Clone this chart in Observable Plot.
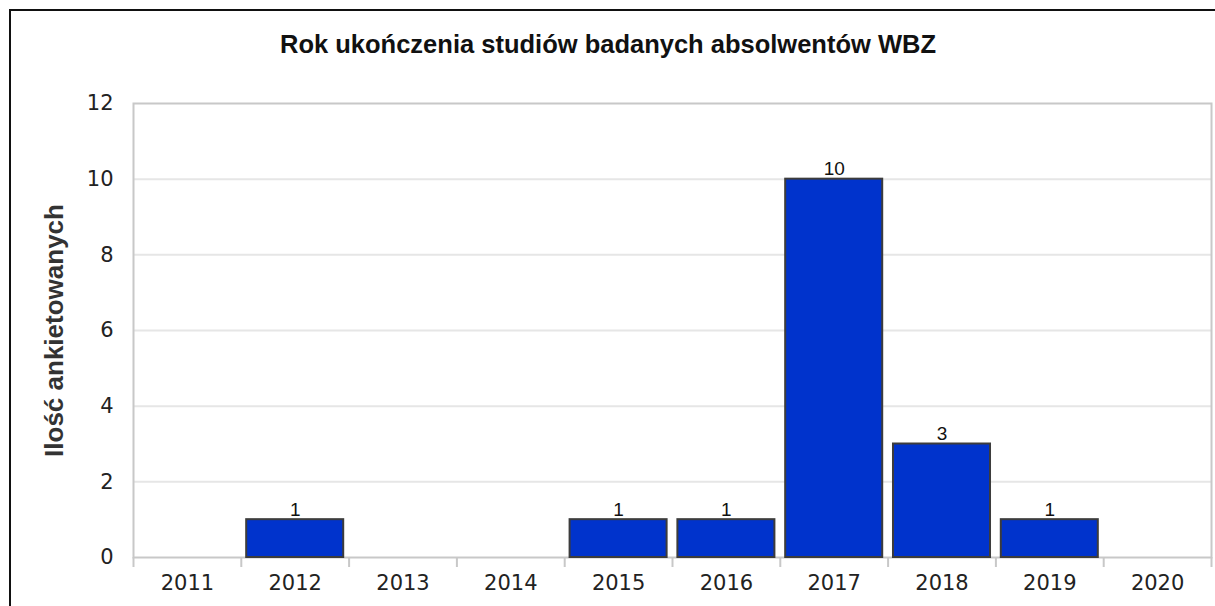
<!DOCTYPE html>
<html>
<head>
<meta charset="utf-8">
<script src="https://cdn.jsdelivr.net/npm/d3@7"></script>
<script src="https://cdn.jsdelivr.net/npm/@observablehq/plot@0.6"></script>
<style>
  html, body { margin: 0; padding: 0; background: #fff; }
  #wrap { position: relative; width: 1215px; height: 606px; overflow: hidden; background: #fff; }
  #border { position: absolute; left: 9px; top: 9px; width: 1400px; height: 800px; border: 2px solid #111; pointer-events: none; }
  #chart { position: absolute; left: 0; top: 0; }
</style>
</head>
<body>
<div id="wrap">
  <div id="chart"></div>
  <div id="border"></div>
</div>
<script>
const title = "Rok ukończenia studiów badanych absolwentów WBZ";
const yLabel = "Ilość ankietowanych";
const years = [2011, 2012, 2013, 2014, 2015, 2016, 2017, 2018, 2019, 2020];
const counts = [0, 1, 0, 0, 1, 1, 10, 3, 1, 0];
const yTicks = [0, 2, 4, 6, 8, 10, 12];

const data = years.map((year, i) => ({year, count: counts[i]}));
const shown = data.filter(d => d.count > 0);
const boundaries = years.map(y => y - 0.5).concat([years[years.length - 1] + 0.5]);

const chart = Plot.plot({
  width: 1215,
  height: 606,
  marginLeft: 133,
  marginRight: 4,
  marginTop: 103,
  marginBottom: 49,
  style: {background: "transparent", fontFamily: "DejaVu Sans", color: "#222"},
  x: {domain: [boundaries[0], boundaries[boundaries.length - 1]]},
  y: {domain: [0, 12]},
  marks: [
    Plot.gridY({ticks: yTicks.slice(1, -1), stroke: "#e6e6e6", strokeOpacity: 1, strokeWidth: 2}),
    Plot.frame({stroke: "#c8c8c8", strokeWidth: 2}),
    Plot.axisY({ticks: yTicks, tickSize: 0, tickPadding: 20, fontSize: 21, fontFamily: "DejaVu Sans", label: null, fill: "#222"}),
    Plot.axisX({ticks: years, tickFormat: d => String(d), tickSize: 0, tickPadding: 18, fontSize: 21, fontFamily: "DejaVu Sans", label: null, fill: "#222"}),
    Plot.axisX({ticks: boundaries, tickFormat: () => "", tickSize: 10, stroke: "#c8c8c8", strokeWidth: 2, label: null}),
    Plot.rectY(shown, {x1: d => d.year - 0.45, x2: d => d.year + 0.45, y: "count", fill: "#0033cc", stroke: "#3c3c3c", strokeWidth: 2}),
    Plot.text(shown, {x: "year", y: "count", text: d => String(d.count), dy: -4, lineAnchor: "bottom", fontFamily: "Liberation Sans, Arial", fontSize: 19, fill: "#111"}),
    Plot.text([yLabel], {frameAnchor: "left", rotate: -90, dx: -71, lineAnchor: "bottom", textAnchor: "middle", fontFamily: "Liberation Sans, Arial", fontWeight: "bold", fontSize: 26, fill: "#333"}),
    Plot.text([title], {frameAnchor: "top", dx: -64.5, dy: -51, lineAnchor: "bottom", textAnchor: "middle", fontFamily: "Liberation Sans, Arial", fontWeight: "bold", fontSize: 25.5, fill: "#111"})
  ]
});
document.getElementById("chart").appendChild(chart);
</script>
</body>
</html>
